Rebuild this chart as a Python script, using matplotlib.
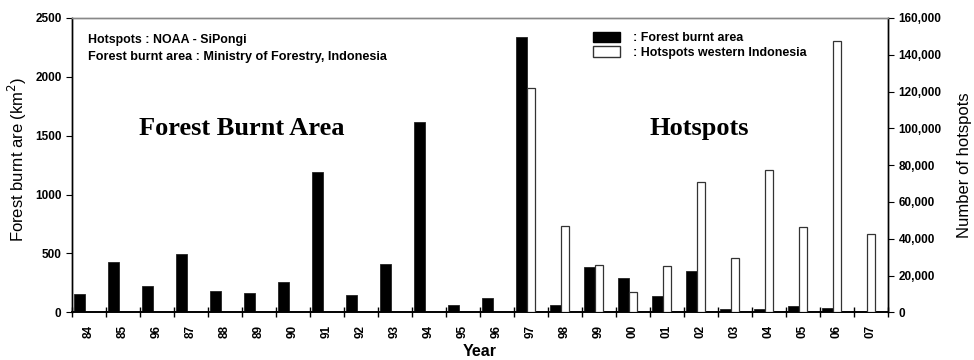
import matplotlib
matplotlib.use("Agg")
import matplotlib.pyplot as plt
import numpy as np
from matplotlib.patches import Patch
from matplotlib.ticker import FuncFormatter

years = ["84", "85", "96", "87", "88", "89", "90", "91", "92", "93", "94", "95",
         "96", "97", "98", "99", "00", "01", "02", "03", "04", "05", "06", "07"]
burnt_area = [152, 424, 223, 494, 181, 161, 257, 1188, 144, 407, 1613, 64,
              119, 2335, 62, 388, 289, 141, 354, 28, 28, 54, 37, np.nan]
hotspots = [np.nan] * 13 + [122000, 47100, 25700, 11200, 25200, 70750, 29700,
                            77450, 46600, 147300, 42450]

plt.rcParams['font.family'] = ['Liberation Sans', 'DejaVu Sans']

fig = plt.figure(figsize=(9.74, 3.6), dpi=100)
ax = fig.add_axes([72/974, 1-312.3/360, (888-72)/974, (312.3-18)/360])
ax2 = ax.twinx()

x = np.arange(len(years))
ax.bar(x + 0.05, burnt_area, width=0.33, align='edge', color='black',
       edgecolor='#222222', linewidth=0.6, zorder=3)
ax2.bar(x + 0.38, hotspots, width=0.24, align='edge', color='white',
        edgecolor='#333333', linewidth=0.9, zorder=3)

ax.set_xlim(0, len(years))
ax.set_ylim(0, 2500)
ax2.set_ylim(0, 160000)

ax.set_xticks(x + 0.5)
ax.set_xticklabels(years, rotation=90, fontsize=8.5, fontweight='bold')
ax.tick_params(axis='x', which='major', length=0, pad=9)
ax.set_xticks(np.arange(0, len(years) + 1), minor=True)
ax.tick_params(axis='x', which='minor', length=7, direction='inout', width=1)

ax.set_yticks(np.arange(0, 2501, 500))
ax.tick_params(axis='y', labelsize=8.5, length=4, direction='out')
for t in ax.get_yticklabels():
    t.set_fontweight('bold')

ax2.set_yticks(np.arange(0, 160001, 20000))
ax2.yaxis.set_major_formatter(FuncFormatter(lambda v, p: f"{int(v):,}"))
ax2.tick_params(axis='y', labelsize=8.5, length=4, direction='out')
for t in ax2.get_yticklabels():
    t.set_fontweight('bold')

for a in (ax, ax2):
    a.spines['top'].set_color('#888888')
    a.spines['top'].set_linewidth(1.0)
    a.spines['left'].set_linewidth(1.0)
    a.spines['right'].set_linewidth(1.0)
    a.spines['bottom'].set_linewidth(1.2)

ax.set_ylabel("Forest burnt are (km$^2$)", fontsize=12)
ax.yaxis.set_label_coords(-0.053, 0.52)
ax2.set_ylabel("Number of hotspots", fontsize=12)
ax2.yaxis.set_label_coords(1.084, 0.5)
ax.set_xlabel("Year", fontsize=11.5, fontweight='bold', labelpad=4)

ax.text(0.019, 0.925, "Hotspots : NOAA - SiPongi", transform=ax.transAxes,
        fontsize=8.9, fontweight='bold', va='center')
ax.text(0.019, 0.867, "Forest burnt area : Ministry of Forestry, Indonesia",
        transform=ax.transAxes, fontsize=9.1, fontweight='bold', va='center')

ax.text(0.208, 0.623, "Forest Burnt Area", transform=ax.transAxes,
        fontsize=19, fontweight='bold', family='Liberation Serif',
        ha='center', va='center')
ax.text(0.769, 0.623, "Hotspots", transform=ax.transAxes,
        fontsize=19, fontweight='bold', family='Liberation Serif',
        ha='center', va='center')

handles = [Patch(facecolor='black', edgecolor='black'),
           Patch(facecolor='white', edgecolor='#333333')]
leg = ax2.legend(handles, [": Forest burnt area", ": Hotspots western Indonesia"],
                 loc='upper left', bbox_to_anchor=(0.625, 0.99), frameon=False,
                 prop={'weight': 'bold', 'size': 8.9}, handlelength=2.2,
                 handleheight=0.9, handletextpad=1.0, labelspacing=0.15)

fig.savefig("out.png", dpi=100)
